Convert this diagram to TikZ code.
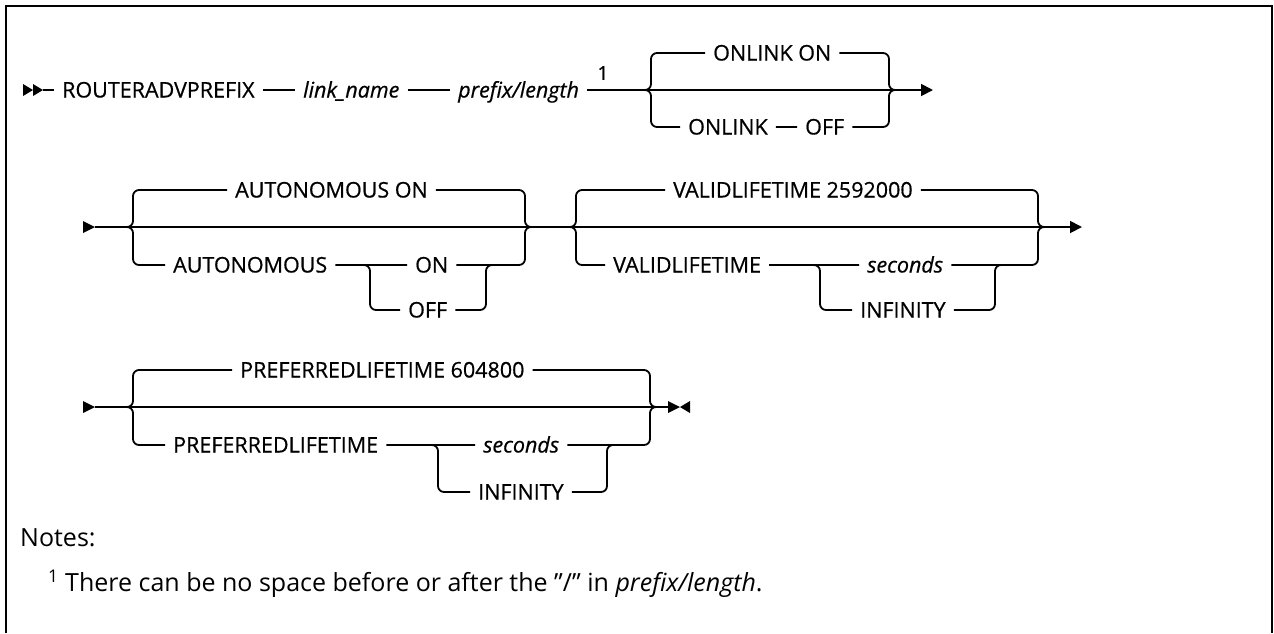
\documentclass[tikz,border=0pt]{standalone}
\usepackage{fontspec}
\setmainfont{Open Sans}
\newfontfamily\railfont{Open Sans}[FakeBold=0.6]
\usetikzlibrary{arrows.meta}

\tikzset{
    rail/.style={line width=1.8pt, rounded corners=6pt},
    kw/.style={anchor=west, inner xsep=8pt, inner ysep=0pt, text height=15pt, text depth=0pt, font=\railfont\fontsize{21.5}{25}\selectfont},
    var/.style={kw, font=\railfont\fontsize{21.5}{25}\selectfont\itshape},
    note/.style={anchor=west, inner sep=0pt, font=\fontsize{25}{30}\selectfont},
    tip/.style={-{Triangle[length=12pt,width=12pt]}}
}

\begin{document}
\begin{tikzpicture}[x=1pt, y=-1pt]
    \useasboundingbox (0,0) rectangle (1274,633);
    \draw[line width=2pt] (6,633) -- (6,6) -- (1272,6) -- (1272,633);

    % first line
    \fill (23,84) -- (33,90) -- (23,96) -- cycle;
    \fill (33,84) -- (43,90) -- (33,96) -- cycle;
    \coordinate (a1) at (43,90);
    \node[kw] (router) at (54,90) {ROUTERADVPREFIX};
    \node[var] (lname) at (295,90) {link\_name};
    \node[var] (prefix) at (450,90) {prefix/length};
    \node[font=\railfont\fontsize{19}{22}\selectfont] (mark1) at (603,73) {1};
    \coordinate (s1) at (645,90);
    \coordinate (j1) at (895,90);
    \coordinate (e1) at (933,90);
    \node[kw] (onlinkon) at (705,53) {ONLINK ON};
    \node[kw] (onlink) at (680,127) {ONLINK};
    \node[kw] (off1) at (797,127) {OFF};
    \draw[rail] (a1) -- (router) -- (lname) -- (prefix) -- (s1) -- (j1);
    \draw[rail] (s1) -- ++(6,0) |- (onlinkon) -| ([xshift=-6pt]j1) -- (j1);
    \draw[rail] (s1) -- ++(6,0) |- (onlink) -- (off1) -| ([xshift=-6pt]j1) -- (j1);
    \draw[rail, tip] (j1) -- (e1);

    % second line
    \fill (83,221) -- (95,227) -- (83,233) -- cycle;
    \coordinate (a2) at (95,227);
    \coordinate (s2) at (127,227);
    \coordinate (j2) at (531,227);
    \coordinate (s3) at (570,227);
    \coordinate (j3) at (1044,227);
    \coordinate (e3) at (1082,227);
    \node[kw] (autoon) at (227,190) {AUTONOMOUS ON};
    \node[kw] (auto) at (165,265) {AUTONOMOUS};
    \coordinate (ss2) at (364,265);
    \node[kw] (on2) at (407,265) {ON};
    \node[kw] (off2) at (400,310) {OFF};
    \coordinate (sj2) at (492,265);
    \node[kw] (validon) at (665,190) {VALIDLIFETIME 2592000};
    \node[kw] (valid) at (605,265) {VALIDLIFETIME};
    \coordinate (ss3) at (814,265);
    \node[var] (sec3) at (859,265) {seconds};
    \node[kw] (inf3) at (852,310) {INFINITY};
    \coordinate (sj3) at (1001,265);
    \draw[rail] (a2) -- (s2) -- (j2) -- (s3) -- (j3);
    \draw[rail] (s2) -- ++(6,0) |- (autoon) -| ([xshift=-6pt]j2) -- (j2);
    \draw[rail] (s2) -- ++(6,0) |- (auto) -- (ss2) -- (on2) -| ([xshift=-6pt]j2) -- (j2);
    \draw[rail] (ss2) -- ++(6,0) |- (off2) -| ([xshift=-6pt]sj2) -- (sj2);
    \draw[rail] (s3) -- ++(6,0) |- (validon) -| ([xshift=-6pt]j3) -- (j3);
    \draw[rail] (s3) -- ++(6,0) |- (valid) -- (ss3) -- (sec3) -| ([xshift=-6pt]j3) -- (j3);
    \draw[rail] (ss3) -- ++(6,0) |- (inf3) -| ([xshift=-6pt]sj3) -- (sj3);
    \draw[rail, tip] (j3) -- (e3);

    % third line
    \fill (83,401) -- (95,407) -- (83,413) -- cycle;
    \coordinate (a4) at (95,407);
    \coordinate (s4) at (127,407);
    \coordinate (j4) at (656,407);
    \coordinate (e4) at (668,407);
    \node[kw] (prefon) at (232,370) {PREFERREDLIFETIME 604800};
    \node[kw] (pref) at (165,445) {PREFERREDLIFETIME};
    \coordinate (ss4) at (432,445);
    \node[var] (sec4) at (475,445) {seconds};
    \node[kw] (inf4) at (470,492) {INFINITY};
    \coordinate (sj4) at (613,445);
    \draw[rail] (a4) -- (s4) -- (j4) -- (e4);
    \draw[rail] (s4) -- ++(6,0) |- (prefon) -| ([xshift=-6pt]j4) -- (j4);
    \draw[rail] (s4) -- ++(6,0) |- (pref) -- (ss4) -- (sec4) -| ([xshift=-6pt]j4) -- (j4);
    \draw[rail] (ss4) -- ++(6,0) |- (inf4) -| ([xshift=-6pt]sj4) -- (sj4);
    \fill (668,401) -- (680,407) -- (668,413) -- cycle;
    \fill (690,401) -- (680,407) -- (690,413) -- cycle;

    \node[note] (notes) at (20,538) {Notes:};
    \node[note] (fn) at (48,584) {\textsuperscript{1} There can be no space before or after the "/" in \textit{prefix/length}.};
\end{tikzpicture}
\end{document}
